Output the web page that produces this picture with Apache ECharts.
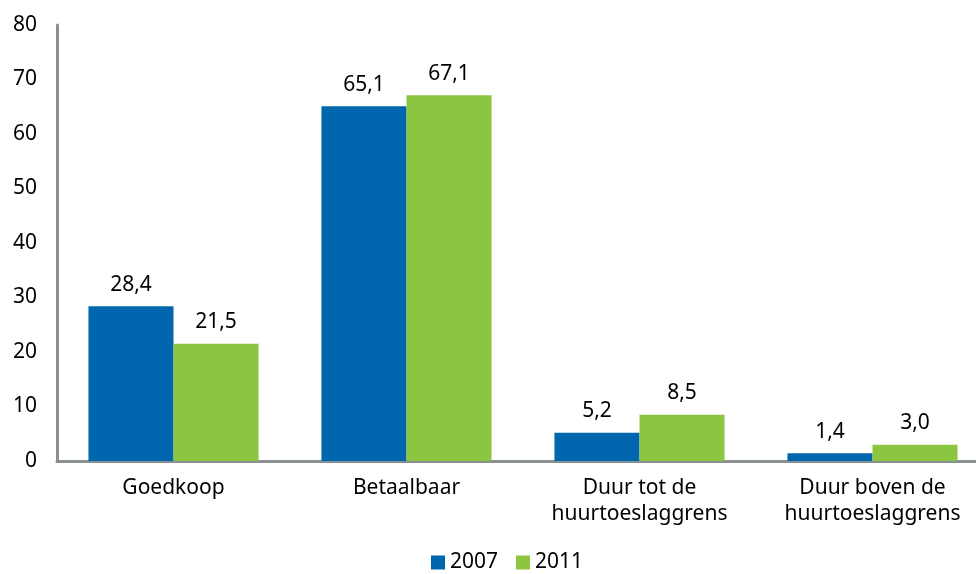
<!DOCTYPE html>
<html><head><meta charset="utf-8">
<script src="https://cdn.jsdelivr.net/npm/echarts@6/dist/echarts.min.js"></script>
<style>html,body{margin:0;padding:0;background:#fff}#c{width:976px;height:574px}</style>
</head><body><div id="c"></div>
<script>
const categories = ["Goedkoop", "Betaalbaar", "Duur tot de\nhuurtoeslaggrens", "Duur boven de\nhuurtoeslaggrens"];
const series2007 = [28.4, 65.1, 5.2, 1.4];
const series2011 = [21.5, 67.1, 8.5, 3.0];
const yTicks = [0, 10, 20, 30, 40, 50, 60, 70, 80];

const font = "Noto Sans";
const fmt = p => p.value.toFixed(1).replace('.', ',');
const chart = echarts.init(document.getElementById('c'));
chart.setOption({
  animation: false,
  textStyle: {fontFamily: font},
  grid: {left: 57, width: 932, top: 25, bottom: 113, containLabel: false, outerBoundsMode: 'none'},
  legend: {
    bottom: 1, left: 431, padding: 0, itemWidth: 14, itemHeight: 14, itemGap: 18,
    icon: 'rect',
    textStyle: {fontSize: 21, color: '#000', fontFamily: font},
    data: ['2007', '2011']
  },
  xAxis: {
    type: 'category', data: categories,
    axisLine: {lineStyle: {color: '#8a8f92', width: 3}},
    axisTick: {show: false},
    axisLabel: {fontSize: 21, color: '#000', lineHeight: 26, margin: 14, interval: 0}
  },
  yAxis: {
    type: 'value', min: 0, max: 80, interval: 10,
    axisLine: {show: true, lineStyle: {color: '#8a8f92', width: 3}},
    axisTick: {show: false},
    splitLine: {show: false},
    axisLabel: {fontSize: 21, color: '#000', margin: 20,
      formatter: v => yTicks.includes(v) ? String(v) : ''}
  },
  series: [
    {name: '2007', type: 'bar', data: series2007, barGap: '0%', barCategoryGap: '27%',
     itemStyle: {color: '#0066ad'},
     label: {show: true, position: 'top', distance: 11, fontSize: 21, color: '#000', formatter: fmt}},
    {name: '2011', type: 'bar', data: series2011,
     itemStyle: {color: '#8cc540'},
     label: {show: true, position: 'top', distance: 11, fontSize: 21, color: '#000', formatter: fmt}}
  ]
});
</script></body></html>
